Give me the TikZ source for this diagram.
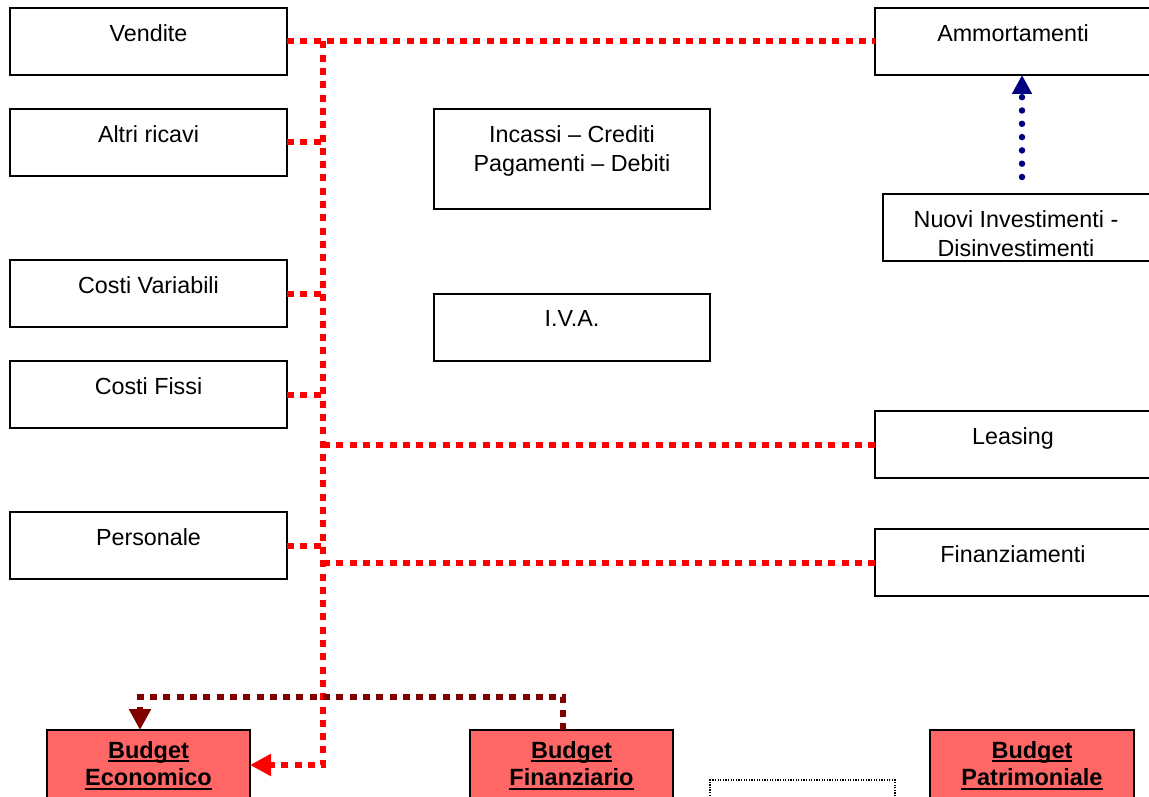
\documentclass[tikz,border=0pt]{standalone}
\usepackage{fontspec}
\setmainfont{Liberation Sans}
\usetikzlibrary{arrows.meta}

\definecolor{linkred}{RGB}{255,0,0}
\definecolor{linkdark}{RGB}{128,0,0}
\definecolor{linkblue}{RGB}{0,0,128}
\definecolor{budgetfill}{RGB}{255,102,102}

% underline at a fixed distance below the baseline
\newcommand\budgetline[1]{\setbox0\hbox{#1}\rlap{\vrule height -2pt depth 4pt width \wd0}\box0}

\tikzset{
  box/.style={draw=black, line width=1.8pt, fill=white, inner sep=0pt, outer sep=0pt,
              anchor=north west, minimum width=277pt, minimum height=67pt},
  budget/.style={box, fill=budgetfill, minimum width=203pt, minimum height=70pt},
  notebox/.style={box, line width=1.2pt, dash pattern=on 1.3pt off 1.3pt,
              minimum width=185pt, minimum height=60pt},
  lbl/.style={inner sep=0pt, anchor=north, align=center,
              font=\fontsize{23.3}{29}\selectfont},
  blbl/.style={inner sep=0pt, anchor=north, align=center,
              font=\fontsize{23.5}{27.5}\selectfont\bfseries},
  reddot/.style={draw=linkred, line width=6pt, dash pattern=on 7pt off 6.3pt},
  darkdot/.style={draw=linkdark, line width=6pt, dash pattern=on 7pt off 6.3pt},
  bluedot/.style={draw=linkblue, line width=6.5pt, line cap=round, dash pattern=on 0pt off 13.3pt},
  redtip/.style={-{Triangle[length=21pt,width=21pt]}},
  bluetip/.style={-{Triangle[length=19pt,width=19pt]}},
}

\begin{document}
\begin{tikzpicture}[x=1pt,y=-1pt]
\useasboundingbox (0,0) rectangle (1149,797);
\clip (0,0) rectangle (1149,797);
\fill[white] (0,0) rectangle (1149,797);

% cost and revenue items
\node[box] (vendite)    at (10,8)   {};
\node[box] (altri)      at (10,109) {};
\node[box] (costivar)   at (10,260) {};
\node[box] (costifissi) at (10,361) {};
\node[box] (personale)  at (10,512) {};

% cash and tax items
\node[box, minimum width=276pt, minimum height=100pt] (incassi) at (434,109) {};
\node[box, minimum width=276pt] (iva) at (434,294) {};

% asset and financing items
\node[box, minimum width=276pt] (ammo)    at (875,8)   {};
\node[box, minimum width=268pt] (nuovi)   at (883,194) {};
\node[box, minimum width=276pt] (leasing) at (875,411) {};
\node[box, minimum width=276pt] (finanz)  at (875,529) {};

% budgets
\node[budget] (econ)   at (47,730)  {};
\node[budget] (finbud) at (470,730) {};
\node[budget, minimum width=204pt] (patr) at (930,730) {};
\node[notebox] (nota) at (710,780) {};

% box captions
\node[lbl] (vendite-t)    at ([yshift=-16pt]vendite.north)    {Vendite};
\node[lbl] (altri-t)      at ([yshift=-16pt]altri.north)      {Altri ricavi};
\node[lbl] (costivar-t)   at ([yshift=-16pt]costivar.north)   {Costi Variabili};
\node[lbl] (costifissi-t) at ([yshift=-16pt]costifissi.north) {Costi Fissi};
\node[lbl] (personale-t)  at ([yshift=-16pt]personale.north)  {Personale};
\node[lbl] (incassi-t)    at ([yshift=-16pt]incassi.north)    {Incassi – Crediti\\Pagamenti – Debiti};
\node[lbl] (iva-t)        at ([yshift=-16pt]iva.north)        {I.V.A.};
\node[lbl] (ammo-t)       at ([yshift=-16pt]ammo.north)       {Ammortamenti};
\node[lbl] (nuovi-t)      at ([yshift=-16pt,xshift=-1pt]nuovi.north) {Nuovi Investimenti -\\Disinvestimenti};
\node[lbl] (leasing-t)    at ([yshift=-16pt]leasing.north)    {Leasing};
\node[lbl] (finanz-t)     at ([yshift=-16pt]finanz.north)     {Finanziamenti};

\node[blbl] (econ-t)   at ([yshift=-11pt]econ.north)   {\budgetline{Budget}\\\budgetline{Economico}};
\node[blbl] (finbud-t) at ([yshift=-11pt]finbud.north) {\budgetline{Budget}\\\budgetline{Finanziario}};
\node[blbl] (patr-t)   at ([yshift=-11pt]patr.north)   {\budgetline{Budget}\\\budgetline{Patrimoniale}};

% routing points
\coordinate (trunk) at (323,0);
\coordinate (dr1) at (563,697);
\coordinate (dr2) at (140,697);
\coordinate (bx)  at (1022,0);

% flows into the economic budget
\draw[reddot] (vendite.east) -- (ammo.west);
\draw[reddot, redtip] (vendite.east -| trunk) -- (trunk |- econ.east) -- (econ.east);
\draw[reddot] (altri.east) -- (altri.east -| trunk);
\draw[reddot] (costivar.east) -- (costivar.east -| trunk);
\draw[reddot] (costifissi.east) -- (costifissi.east -| trunk);
\draw[reddot] (personale.east) -- (personale.east -| trunk);
\draw[reddot] (leasing.west -| trunk) -- (leasing.west);
\draw[reddot] (finanz.west -| trunk) -- (finanz.west);

% financial budget feeding the economic budget
\draw[darkdot, redtip] (finbud.north -| dr1) -- (dr1) -- (dr2) -- (econ.north -| dr2);

% investments feeding depreciation
\draw[bluedot, bluetip, shorten <=17pt] (nuovi.north -| bx) -- (ammo.south -| bx);
\end{tikzpicture}
\end{document}
